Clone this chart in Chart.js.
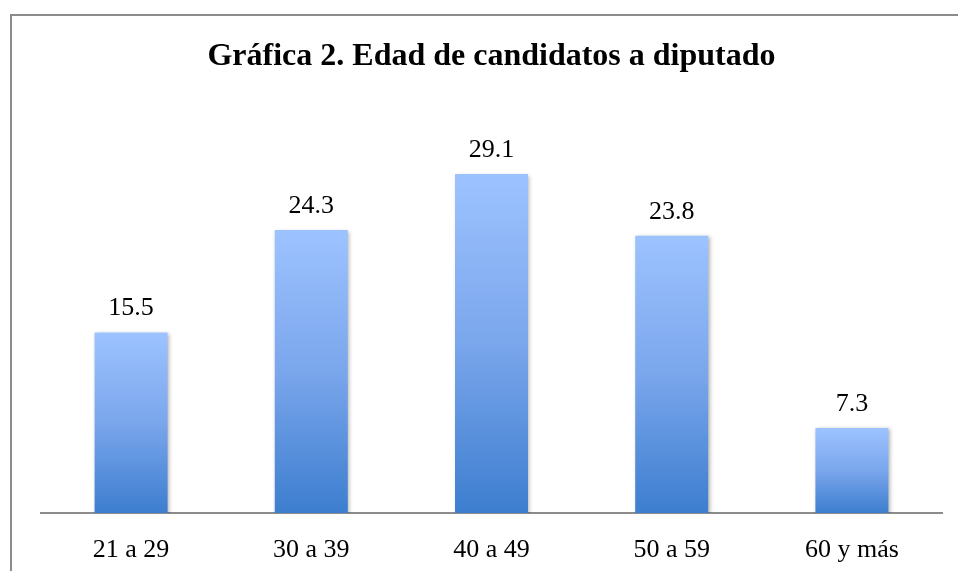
<!DOCTYPE html>
<html>
<head>
<meta charset="utf-8">
<script src="https://cdn.jsdelivr.net/npm/chart.js@4.4.1/dist/chart.umd.min.js"></script>
<style>
  html, body { margin: 0; padding: 0; background: #fff; }
  #wrap { position: relative; width: 958px; height: 571px; overflow: hidden; }
  #frame {
    position: absolute; left: 10px; top: 14px; width: 1000px; height: 600px;
    border-left: 2px solid #8c8c8c; border-top: 2px solid #8c8c8c;
  }
  canvas { position: absolute; left: 0; top: 0; }
</style>
</head>
<body>
<div id="wrap">
  <div id="frame"></div>
  <canvas id="chart" width="958" height="571"></canvas>
</div>
<script>
// Age groups and share of candidates (%)
const categories = ["21 a 29", "30 a 39", "40 a 49", "50 a 59", "60 y más"];
const values = [15.5, 24.3, 29.1, 23.8, 7.3];
const titleText = "Gráfica 2. Edad de candidatos a diputado";

const serif = "'Liberation Serif', 'Times New Roman', serif";

// Vertical gradient per bar, light on top, darker at the base
function barGradient(context) {
    const chart = context.chart;
    const area = chart.chartArea;
    if (!area) return "#6fa0e8";
    const y = chart.scales.y;
    const top = y.getPixelForValue(context.raw);
    const bottom = y.getPixelForValue(0);
    const g = chart.ctx.createLinearGradient(0, top, 0, bottom);
    g.addColorStop(0, "#9dc3ff");
    g.addColorStop(0.5, "#7aa6ec");
    g.addColorStop(1, "#3d7ecf");
    return g;
}

// Soft drop shadow behind the bars
const barShadow = {
    id: "barShadow",
    beforeDatasetsDraw(chart) {
        const ctx = chart.ctx;
        ctx.save();
        ctx.shadowColor = "rgba(0, 0, 0, 0.3)";
        ctx.shadowBlur = 4;
        ctx.shadowOffsetX = 1.5;
        ctx.shadowOffsetY = 1.5;
    },
    afterDatasetsDraw(chart) {
        chart.ctx.restore();
    }
};

// Value labels above each bar
const valueLabels = {
    id: "valueLabels",
    afterDatasetsDraw(chart) {
        const ctx = chart.ctx;
        const meta = chart.getDatasetMeta(0);
        ctx.save();
        ctx.font = "26px " + serif;
        ctx.fillStyle = "#000";
        ctx.textAlign = "center";
        ctx.textBaseline = "alphabetic";
        meta.data.forEach((bar, i) => {
            ctx.fillText(values[i].toFixed(1), bar.x, bar.y - 17);
        });
        ctx.restore();
    }
};

new Chart(document.getElementById("chart"), {
    type: "bar",
    data: {
        labels: categories,
        datasets: [{
            data: values,
            backgroundColor: barGradient,
            borderWidth: 0,
            categoryPercentage: 1,
            barPercentage: 0.405
        }]
    },
    options: {
        responsive: false,
        animation: false,
        layout: { padding: { left: 41, right: 16, top: 0, bottom: 0 } },
        plugins: {
            legend: { display: false },
            tooltip: { enabled: false },
            title: {
                display: true,
                text: titleText,
                color: "#000",
                font: { family: serif, size: 32, weight: "bold" },
                padding: { top: 38, bottom: 29 }
            }
        },
        scales: {
            x: {
                grid: { display: false, drawTicks: false },
                border: { display: true, color: "#8c8c8c", width: 2 },
                ticks: {
                    color: "#000",
                    font: { family: serif, size: 26 },
                    padding: 22,
                    maxRotation: 0
                },
                afterFit(scale) { scale.height = 58; }
            },
            y: {
                display: false,
                min: 0,
                max: 35
            }
        }
    },
    plugins: [barShadow, valueLabels]
});
</script>
</body>
</html>
